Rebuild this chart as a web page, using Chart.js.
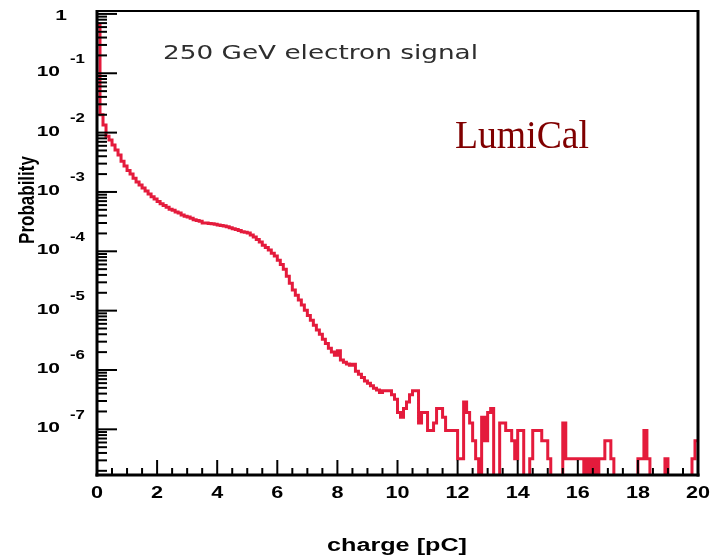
<!DOCTYPE html>
<html>
<head>
<meta charset="utf-8">
<script src="https://cdn.jsdelivr.net/npm/chart.js@4.4.1/dist/chart.umd.min.js"></script>
<style>
  html, body { margin: 0; padding: 0; background: #fff; }
  #wrap { width: 716px; height: 559px; }
</style>
</head>
<body>
<div id="wrap"><canvas id="myChart"></canvas></div>
<script>
// ============================================
// HISTOGRAM DATA
// ============================================

const binWidth = 0.1;            // pC
const xRange = [0, 20];
const yRange = [1.7e-8, 1.12];

// bins 0.0 - 9.3 pC, probability per bin
const headProb = [
    0.65, 0.020, 0.0134, 0.0087, 0.0075, 0.0062, 0.0051, 0.0042, 0.0033, 0.00275,
    0.0023, 0.0020, 0.0017, 0.00147, 0.00131, 0.00117, 0.00104, 0.00092, 0.00083, 0.00076,
    0.00069, 0.00063, 0.00059, 0.00055, 0.00051, 0.00049, 0.00046, 0.00044, 0.00041, 0.00039,
    0.00038, 0.00036, 0.00034, 0.00033, 0.00032, 0.00030, 0.00030, 0.000295, 0.00029, 0.000285,
    0.000277, 0.000272, 0.000266, 0.00026, 0.00025, 0.00024, 0.000233, 0.000224, 0.000214, 0.000209,
    0.000204, 0.000188, 0.000174, 0.000158, 0.000143, 0.000127, 0.000116, 0.000105, 9.3e-5, 8.3e-5,
    7.1e-5, 6.0e-5, 5.0e-5, 3.8e-5, 2.9e-5, 2.22e-5, 1.82e-5, 1.51e-5, 1.24e-5, 1.02e-5,
    8.3e-6, 6.9e-6, 5.7e-6, 4.7e-6, 4.0e-6, 3.3e-6, 2.8e-6, 2.33e-6, 2.0e-6, 1.78e-6,
    2.1e-6, 1.47e-6, 1.35e-6, 1.26e-6, 1.2e-6, 1.25e-6, 9.5e-7, 8.5e-7, 7.5e-7, 6.5e-7,
    6.0e-7, 5.4e-7, 4.9e-7, 4.6e-7
];

// bins 9.4 - 20.0 pC, in entries (one entry = countUnit)
const countUnit = 3.2e-8;
const tailCounts = [
    13, 14, 14, 14, 12, 10,
    6, 5, 7, 9, 12, 14, 14, 4, 6, 6,
    3, 3, 4, 7, 7, 5, 3, 3, 3, 3,
    1, 1, 9, 6, 4, 2, 1, 0, 5, 2,
    6, 7, 0, 0, 4, 4, 3, 3, 2, 1,
    3, 3, 0, 0, 1, 3, 3, 3, 2, 2,
    1, 0, 0, 0, 0, 4, 1, 1, 1, 1,
    1, 1, 0, 1, 0, 1, 0, 1, 1, 2,
    2, 1, 0, 0, 0, 0, 0, 0, 0, 0,
    1, 1, 3, 1, 0, 0, 0, 0, 0, 1,
    0, 0, 0, 0, 0, 0, 0, 0, 1, 2
];

const yDecades = [0, -1, -2, -3, -4, -5, -6, -7];
const xTickLabels = [0, 2, 4, 6, 8, 10, 12, 14, 16, 18, 20];

const titleText = '250 GeV electron signal';
const tagText = 'LumiCal';
const xTitle = 'charge [pC]';
const yTitle = 'Probability';

// ============================================
// BUILD STEP POINTS (left bin edges)
// ============================================

const emptyFloor = 1e-10;   // empty bins fall below the axis

const binValues = headProb.concat(tailCounts.map(c => c * countUnit));

const points = binValues.map((v, i) => ({
    x: +(i * binWidth).toFixed(2),
    y: v > 0 ? v : emptyFloor
}));
points.push({ x: xRange[1], y: points[points.length - 1].y });

// ============================================
// DRAW HELPERS
// ============================================

function stretchedText(ctx, text, x, y, sx, align, baseline) {
    ctx.save();
    ctx.translate(x, y);
    ctx.scale(sx, 1);
    ctx.textAlign = align;
    ctx.textBaseline = baseline;
    ctx.fillText(text, 0, 0);
    ctx.restore();
}

function line(ctx, x1, y1, x2, y2) {
    ctx.beginPath();
    ctx.moveTo(x1, y1);
    ctx.lineTo(x2, y2);
    ctx.stroke();
}

// frame, inward ticks, labels and captions
const rootFrame = {
    id: 'rootFrame',

    beforeDraw(chart) {
        const ctx = chart.ctx;
        ctx.save();
        ctx.fillStyle = '#fff';
        ctx.fillRect(0, 0, chart.width, chart.height);
        ctx.restore();
    },

    afterDatasetsDraw(chart) {
        const { ctx, chartArea: a, scales: { x, y } } = chart;
        ctx.save();
        ctx.strokeStyle = '#000';
        ctx.fillStyle = '#000';

        // y ticks, one decade at a time
        ctx.lineWidth = 2;
        for (let d = -8; d <= 0; d++) {
            for (let k = 1; k < 10; k++) {
                const v = k * Math.pow(10, d);
                if (v < y.min || v > y.max) continue;
                const py = y.getPixelForValue(v);
                line(ctx, a.left, py, a.left + (k === 1 ? 20 : 10), py);
            }
        }

        // x ticks every 0.5 pC
        for (let q = xRange[0]; q <= xRange[1]; q += 0.5) {
            const px = x.getPixelForValue(q);
            line(ctx, px, a.bottom, px, a.bottom - (q % 2 === 0 ? 15 : 7));
        }

        // frame
        ctx.lineWidth = 2;
        line(ctx, a.left, a.top, a.right, a.top);
        ctx.lineWidth = 3;
        line(ctx, a.left, a.top - 1, a.left, a.bottom + 1.5);
        line(ctx, a.left - 1.5, a.bottom, a.right + 1.5, a.bottom);
        line(ctx, a.right, a.top - 1, a.right, a.bottom + 1.5);

        // y tick labels: 1, 10^-1 ... 10^-7
        yDecades.forEach(d => {
            const py = y.getPixelForValue(Math.pow(10, d));
            if (d === 0) {
                ctx.font = 'bold 15px "Liberation Sans"';
                stretchedText(ctx, '1', 67, py + 2, 1.4, 'right', 'middle');
                return;
            }
            ctx.font = 'bold 15px "Liberation Sans"';
            stretchedText(ctx, '10', 60, py - 1, 1.4, 'right', 'middle');
            ctx.font = 'bold 12px "Liberation Sans"';
            stretchedText(ctx, String(d), 70, py - 14, 1.4, 'left', 'middle');
        });

        // x tick labels
        ctx.font = 'bold 16px "Liberation Sans"';
        xTickLabels.forEach(q => {
            stretchedText(ctx, String(q), x.getPixelForValue(q), a.bottom + 19, 1.35, 'center', 'middle');
        });

        // axis titles
        ctx.font = 'bold 18px "Liberation Sans"';
        stretchedText(ctx, xTitle, 397, 551, 1.4, 'center', 'alphabetic');

        ctx.save();
        ctx.translate(28, 200);
        ctx.scale(1.3, 1);
        ctx.rotate(-Math.PI / 2);
        ctx.font = 'bold 17px "Liberation Sans"';
        ctx.textAlign = 'center';
        ctx.textBaseline = 'middle';
        ctx.fillText(yTitle, 0, 0);
        ctx.restore();

        // captions inside the frame
        ctx.font = '19px "DejaVu Sans"';
        ctx.fillStyle = '#2e2e2e';
        let sx = 315 / ctx.measureText(titleText).width;
        stretchedText(ctx, titleText, 163, 59, sx, 'left', 'alphabetic');

        ctx.font = '40px "Liberation Serif"';
        ctx.fillStyle = '#800000';
        sx = 134 / ctx.measureText(tagText).width;
        stretchedText(ctx, tagText, 455, 148, sx, 'left', 'alphabetic');

        ctx.restore();
    }
};

// ============================================
// CREATE CHART
// ============================================

new Chart(document.getElementById('myChart'), {
    type: 'line',
    data: {
        datasets: [{
            data: points,
            stepped: 'before',
            borderColor: '#e41b3c',
            borderWidth: 3,
            pointRadius: 0,
            fill: false,
            clip: 0
        }]
    },
    options: {
        responsive: true,
        maintainAspectRatio: false,
        animation: false,
        events: [],
        layout: {
            padding: { left: 97, right: 18, top: 11, bottom: 84 }
        },
        plugins: {
            legend: { display: false },
            tooltip: { enabled: false }
        },
        scales: {
            x: { type: 'linear', min: xRange[0], max: xRange[1], display: false },
            y: { type: 'logarithmic', min: yRange[0], max: yRange[1], display: false }
        }
    },
    plugins: [rootFrame]
});
</script>
</body>
</html>
